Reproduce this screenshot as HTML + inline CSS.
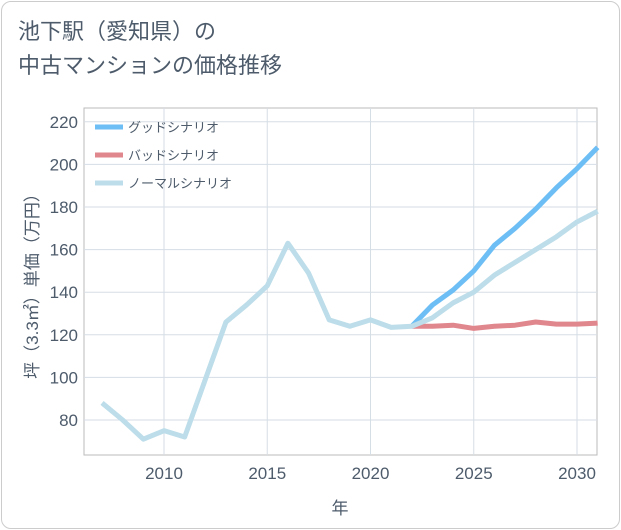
<!DOCTYPE html>
<html><head><meta charset="utf-8"><style>
body{margin:0;background:#fff;font-family:"Liberation Sans","Noto Sans CJK JP",sans-serif}
.card{position:absolute;left:1px;top:1px;width:617px;height:526px;border:1px solid #ccc;border-radius:10px;background:#fff}
.title{position:absolute;left:18px;top:15px;font-size:22px;line-height:34px;color:#4d5b6b}
</style></head><body>
<div class="card"></div>
<div class="title">池下駅（愛知県）の<br>中古マンションの価格推移</div>
<svg id="c" width="621" height="530" style="position:absolute;left:0;top:0"></svg>
<script>
const years=[2007,2008,2009,2010,2011,2012,2013,2014,2015,2016,2017,2018,2019,2020,2021,2022,2023,2024,2025,2026,2027,2028,2029,2030,2031];
const normal=[88,80,71,75,72,99,126,134,143,163,149,127,124,127,123.5,124,128,135,140,148,154,160,166,173,178];
const fyears=[2022,2023,2024,2025,2026,2027,2028,2029,2030,2031];
const good=[124,134,141,150,162,170,179,189,198,208];
const bad=[124,124,124.5,123,124,124.5,126,125,125,125.5];
const yTicks=[80,100,120,140,160,180,200,220];
const xTicks=[2010,2015,2020,2025,2030];
const L=84,R=597,T=108,B=455;
const x=v=>164+(v-2010)*20.65;
const y=v=>420-(v-80)*2.13;
const s=document.getElementById('c');const NS='http://www.w3.org/2000/svg';
function mk(t,a,p){const e=document.createElementNS(NS,t);for(const k in a)e.setAttribute(k,a[k]);(p||s).appendChild(e);return e;}
const bg=mk('rect',{x:L,y:T,width:R-L,height:B-T,fill:'#fff',stroke:'#bbb'});


yTicks.forEach(v=>{const g=mk('line',{x1:L,x2:R,y1:y(v),y2:y(v),stroke:'#d5dde5'});


const t=mk('text',{x:L-6,y:y(v)+6,'text-anchor':'end','font-size':17,fill:'#4d5b6b'});t.textContent=v;

});
xTicks.forEach(v=>{const g=mk('line',{x1:x(v),x2:x(v),y1:T,y2:B,stroke:'#d5dde5'});


const t=mk('text',{x:x(v),y:B+24,'text-anchor':'middle','font-size':17,fill:'#4d5b6b'});t.textContent=v;

});
function line(xs,ys,c,n){const p=mk('polyline',{points:xs.map((v,i)=>x(v)+','+y(ys[i])).join(' '),fill:'none',stroke:c,'stroke-width':5,'stroke-linejoin':'round'});

}
line(fyears,bad,'#e0868d','bad-scenario-line');
line(fyears,good,'#6dbef5','good-scenario-line');
line(years,normal,'#bcdde9','normal-scenario-line');
const leg=[['グッドシナリオ','#6dbef5'],['バッドシナリオ','#e0868d'],['ノーマルシナリオ','#bcdde9']];
leg.forEach((l,i)=>{const g=mk('g',{});


mk('line',{x1:95,x2:123,y1:127+i*28,y2:127+i*28,stroke:l[1],'stroke-width':5},g);
const t=mk('text',{x:128,y:132+i*28,'font-size':13,fill:'#4d5b6b'},g);t.textContent=l[0];});
const xt=mk('text',{x:340,y:514,'text-anchor':'middle','font-size':17,fill:'#4d5b6b'});xt.textContent='年';


const yt=mk('text',{x:0,y:0,'text-anchor':'middle','font-size':17,fill:'#4d5b6b',transform:'translate(38,282) rotate(-90)'});yt.textContent='坪（3.3㎡）単価（万円）';


</script>
</body></html>
